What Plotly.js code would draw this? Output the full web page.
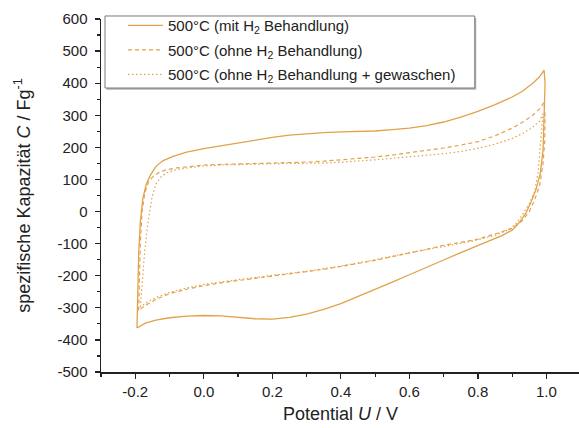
<!DOCTYPE html>
<html>
<head>
<meta charset="utf-8">
<script src="https://cdn.plot.ly/plotly-3.0.1.min.js"></script>
<style>html,body{margin:0;padding:0;background:#fff;}#chart{width:579px;height:428px;}</style>
</head>
<body>
<div id="chart"></div>
<script>
// Series names
const seriesNames = [
  "500°C (mit H<sub>2</sub> Behandlung)",
  "500°C (ohne H<sub>2</sub> Behandlung)",
  "500°C (ohne H<sub>2</sub> Behandlung + gewaschen)"
];
const xTitle = 'Potential <i>U</i> / V';
const yTitle = 'spezifische Kapazität <i>C</i> / Fg<sup>-1</sup>';

// Series 1: mit H2 Behandlung (potential / V, capacitance / F g^-1), closed CV loop
const mitH2_U = [-0.195,-0.193,-0.19,-0.185,-0.178,-0.168,-0.155,-0.14,-0.12,-0.09,-0.05,0.0,0.05,0.1,0.15,0.2,0.25,0.3,0.35,0.4,0.45,0.5,0.55,0.6,0.65,0.7,0.75,0.8,0.85,0.9,0.93,0.96,0.98,0.993,
  0.996,0.994,0.99,0.982,0.97,0.955,0.94,0.92,0.9,0.87,0.84,0.8,0.75,0.7,0.65,0.6,0.55,0.5,0.45,0.4,0.35,0.3,0.25,0.2,0.15,0.1,0.05,0.0,-0.05,-0.1,-0.14,-0.17,-0.195];
const mitH2_C = [-363,-250,-130,-30,40,85,115,140,158,172,185,196,205,213,222,231,238,243,246,248,249,251,255,260,268,279,294,312,333,357,375,400,420,441,
  400,300,190,120,70,30,-5,-35,-58,-75,-88,-105,-128,-151,-173,-197,-220,-243,-265,-287,-305,-320,-330,-335,-334,-329,-325,-324,-326,-331,-338,-348,-363];

// Series 2: ohne H2 Behandlung
const ohneH2_U = [-0.19,-0.188,-0.185,-0.18,-0.172,-0.16,-0.145,-0.13,-0.11,-0.08,-0.04,0.0,0.05,0.1,0.15,0.2,0.25,0.3,0.35,0.4,0.45,0.5,0.55,0.6,0.65,0.7,0.75,0.8,0.85,0.9,0.93,0.96,0.98,0.993,
  0.996,0.995,0.99,0.98,0.965,0.95,0.93,0.9,0.85,0.8,0.75,0.7,0.65,0.6,0.55,0.5,0.45,0.4,0.35,0.3,0.25,0.2,0.15,0.1,0.05,0.0,-0.05,-0.1,-0.14,-0.17,-0.19];
const ohneH2_C = [-308,-200,-90,0,60,95,112,122,130,136,141,145,147,148,149,150,152,154,157,161,165,170,176,183,190,198,207,218,236,260,278,300,320,340,
  300,220,150,80,35,0,-28,-52,-70,-86,-96,-105,-118,-130,-141,-152,-162,-172,-180,-187,-194,-200,-207,-214,-222,-231,-242,-256,-274,-292,-308];

// Series 3: ohne H2 Behandlung + gewaschen
const gewaschen_U = [-0.185,-0.18,-0.173,-0.165,-0.158,-0.151,-0.14,-0.125,-0.11,-0.09,-0.06,-0.03,0.0,0.05,0.1,0.15,0.2,0.25,0.3,0.35,0.4,0.45,0.5,0.55,0.6,0.65,0.7,0.75,0.8,0.85,0.9,0.93,0.96,0.98,0.99,
  0.988,0.985,0.98,0.976,0.965,0.95,0.93,0.91,0.89,0.85,0.8,0.75,0.7,0.6,0.5,0.4,0.3,0.2,0.1,0.0,-0.05,-0.1,-0.14,-0.165,-0.185];
const gewaschen_C = [-297,-220,-130,-50,0,46,85,108,120,128,134,139,142,145,147,148,149,150,150,151,154,157,161,166,170,174,180,187,197,210,228,243,263,282,305,
  280,250,180,124,60,25,-10,-40,-57,-74,-88,-99,-108,-128,-150,-170,-186,-198,-212,-227,-238,-252,-268,-282,-297];

// Axis ticks
const xTicks = [-0.2, 0.0, 0.2, 0.4, 0.6, 0.8, 1.0];
const xTickText = ["-0.2", "0.0", "0.2", "0.4", "0.6", "0.8", "1.0"];
const yTicks = [-500,-400,-300,-200,-100,0,100,200,300,400,500,600];
const yTickText = ["-500","-400","-300","-200","-100","0","100","200","300","400","500","600"];

const col = '#E1A24A';
const traces = [
  {x: mitH2_U, y: mitH2_C, name: seriesNames[0], legendgroup: 'a', mode: 'lines', line: {color: col, width: 1.3}},
  {x: ohneH2_U, y: ohneH2_C, name: seriesNames[1], legendgroup: 'b', mode: 'lines', line: {color: col, width: 1.2, dash: '4px,3px'}},
  {x: gewaschen_U, y: gewaschen_C, name: seriesNames[2], legendgroup: 'c', mode: 'lines', line: {color: col, width: 1.2, dash: '1.5px,2.5px'}}
];

const ff = 'Liberation Sans, Arial, sans-serif';
const layout = {
  width: 579, height: 428,
  margin: {l: 101, r: 0, t: 19, b: 56},
  paper_bgcolor: '#fff', plot_bgcolor: '#fff',
  font: {family: ff, size: 15, color: '#222'},
  showlegend: true,
  legend: {
    x: 0.046, y: 1.028, xanchor: 'left', yanchor: 'top',
    bgcolor: 'rgba(0,0,0,0)', borderwidth: 0,
    font: {family: ff, size: 15, color: '#222'},
    traceorder: 'grouped', tracegroupgap: 2, itemwidth: 35
  },
  shapes: [
    {type: 'rect', xref: 'paper', yref: 'paper', x0: 0.0115, x1: 0.785, y0: 0.7995, y1: 1.003,
      line: {width: 0}, fillcolor: '#b0b0b0', layer: 'above'},
    {type: 'rect', xref: 'paper', yref: 'paper', x0: 0.0084, x1: 0.782, y0: 0.8045, y1: 1.0085,
      line: {width: 1, color: '#7a7a7a'}, fillcolor: '#ffffff', layer: 'above'}
  ],
  annotations: [
    {text: xTitle, xref: 'paper', yref: 'paper', x: 0.5, y: -0.12, xanchor: 'center', yanchor: 'middle',
      showarrow: false, font: {family: ff, size: 18, color: '#222'}}
  ],
  xaxis: {
    range: [-0.3, 1.095],
    tickvals: xTicks, ticktext: xTickText,
    ticks: 'outside', ticklen: 5, tickwidth: 1.2, tickcolor: '#222', ticklabelstandoff: 0,
    showline: true, linecolor: '#222', linewidth: 1.5,
    showgrid: false, zeroline: false, mirror: false,
    minor: {dtick: 0.1, tick0: 0, ticks: 'outside', ticklen: 3, tickwidth: 1.2, tickcolor: '#222', showgrid: false},
    tickfont: {family: ff, size: 15, color: '#222'}
  },
  yaxis: {
    range: [-500, 600],
    tickvals: yTicks, ticktext: yTickText,
    ticks: 'outside', ticklen: 5, tickwidth: 1.2, tickcolor: '#222', ticklabelstandoff: 4,
    showline: true, linecolor: '#222', linewidth: 1.5,
    showgrid: false, zeroline: false, mirror: false,
    minor: {dtick: 50, tick0: 0, ticks: 'outside', ticklen: 3, tickwidth: 1.2, tickcolor: '#222', showgrid: false},
    title: {text: yTitle, font: {family: ff, size: 18, color: '#222'}, standoff: 22},
    tickfont: {family: ff, size: 15, color: '#222'}
  }
};

Plotly.newPlot('chart', traces, layout, {staticPlot: true, displayModeBar: false});
</script>
</body>
</html>
